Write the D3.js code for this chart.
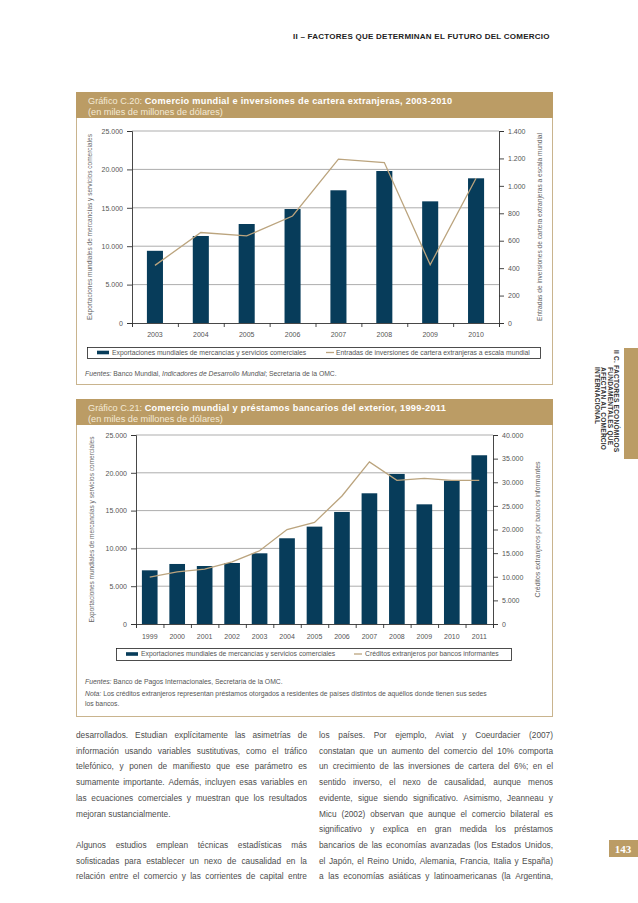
<!DOCTYPE html>
<html>
<head>
<meta charset="utf-8">
<script src="https://cdn.jsdelivr.net/npm/d3@7"></script>
<style>
  body { margin: 0; background: #fff; }
  svg { display: block; font-family: "Liberation Sans", Arial, sans-serif; }
</style>
</head>
<body>
<svg id="page" width="638" height="903"></svg>
<script>
// Gráfico C.20
var years20 = ['2003', '2004', '2005', '2006', '2007', '2008', '2009', '2010'];
var exports20 = [9400, 11330, 12890, 14840, 17280, 19790, 15840, 18840];
var portfolio20 = [420, 660, 635, 780, 1195, 1170, 425, 1055];
var leftTicks20 = [0, 5000, 10000, 15000, 20000, 25000];
var rightTicks20 = [0, 200, 400, 600, 800, 1000, 1200, 1400];

// Gráfico C.21
var years21 = ['1999', '2000', '2001', '2002', '2003', '2004', '2005', '2006', '2007', '2008', '2009', '2010', '2011'];
var exports21 = [7100, 7940, 7670, 8070, 9350, 11340, 12880, 14820, 17290, 19850, 15830, 18960, 22320];
var credits21 = [9900, 11050, 11600, 13150, 15500, 20000, 21500, 27100, 34300, 30400, 30800, 30400, 30400];
var leftTicks21 = [0, 5000, 10000, 15000, 20000, 25000];
var rightTicks21 = [0, 5000, 10000, 15000, 20000, 25000, 30000, 35000, 40000];

var GOLD = '#bb9c65';
var BAR = '#073c5a';
var LINE = '#bba47e';

var es = d3.formatLocale({decimal: ',', thousands: '.', grouping: [3], currency: ['', '']});
var fmt = es.format(',d');

var svg = d3.select('#page');

// page header
svg.append('text').attr('x', 293).attr('y', 38.5)
  .attr('font-size', 8).attr('font-weight', 'bold').attr('letter-spacing', 0.25).attr('fill', '#222')
  .text('II – FACTORES QUE DETERMINAN EL FUTURO DEL COMERCIO');

function drawChart(cfg) {
  var g = svg.append('g');
  // frame + header band
  g.append('rect').attr('x', cfg.box[0] + 0.5).attr('y', cfg.top + 0.5)
    .attr('width', cfg.box[1] - cfg.box[0] - 1).attr('height', cfg.bottom - cfg.top - 1)
    .attr('fill', 'none').attr('stroke', '#c9b48e').attr('stroke-width', 1);
  g.append('rect').attr('x', cfg.box[0]).attr('y', cfg.top)
    .attr('width', cfg.box[1] - cfg.box[0]).attr('height', 26).attr('fill', GOLD);
  var t = g.append('text').attr('x', 88).attr('y', cfg.top + 12).attr('font-size', 9.2);
  t.append('tspan').attr('fill', '#f4ead6').text(cfg.label + ' ');
  t.append('tspan').attr('fill', '#fff').attr('font-weight', 'bold').attr('letter-spacing', 0.3).text(cfg.title);
  g.append('text').attr('x', 88).attr('y', cfg.top + 22.5).attr('font-size', 9.2)
    .attr('fill', '#f4ead6').text('(en miles de millones de dólares)');

  var p = cfg.plot;
  var x = d3.scaleBand().domain(cfg.years).range([p.left, p.right])
    .paddingInner(cfg.pad).paddingOuter(cfg.pad / 2);
  var edge = d3.scaleLinear().domain([0, cfg.years.length]).range([p.left, p.right]);
  var y = d3.scaleLinear().domain([0, 25000]).range([p.bottom, p.top]);
  var y2 = d3.scaleLinear().domain([0, cfg.rightTicks[cfg.rightTicks.length - 1]]).range([p.bottom, p.top]);

  // gridlines
  g.append('g').selectAll('line').data(cfg.leftTicks.slice(1)).enter().append('line')
    .attr('x1', p.left).attr('x2', p.right)
    .attr('y1', function (d) { return y(d); }).attr('y2', function (d) { return y(d); })
    .attr('stroke', '#8a8a8a').attr('stroke-width', 0.7);

  // bars
  g.append('g').selectAll('rect').data(cfg.bars).enter().append('rect')
    .attr('x', function (d, i) { return x(cfg.years[i]); })
    .attr('width', x.bandwidth())
    .attr('y', function (d) { return y(d); })
    .attr('height', function (d) { return p.bottom - y(d); })
    .attr('fill', BAR);

  // line
  var ln = d3.line()
    .x(function (d, i) { return x(cfg.years[i]) + x.bandwidth() / 2; })
    .y(function (d) { return y2(d); });
  g.append('path').datum(cfg.line).attr('d', ln)
    .attr('fill', 'none').attr('stroke', LINE).attr('stroke-width', 1.3);

  // axes
  var left = g.append('g').attr('transform', 'translate(' + p.left + ',0)')
    .call(d3.axisLeft(y).tickValues(cfg.leftTicks).tickSize(5).tickPadding(4).tickFormat(fmt));
  var right = g.append('g').attr('transform', 'translate(' + p.right + ',0)')
    .call(d3.axisRight(y2).tickValues(cfg.rightTicks).tickSize(5).tickPadding(4).tickFormat(fmt));
  var bottom = g.append('g').attr('transform', 'translate(0,' + p.bottom + ')')
    .call(d3.axisBottom(edge).tickValues(d3.range(cfg.years.length + 1)).tickSize(4).tickFormat(''));
  var labels = g.append('g').attr('transform', 'translate(0,' + p.bottom + ')')
    .call(d3.axisBottom(x).tickSize(0).tickPadding(cfg.yearPad));
  labels.select('.domain').remove();
  [left, right, bottom, labels].forEach(function (a) {
    a.attr('font-family', null);
    a.selectAll('.domain').attr('stroke', '#333').attr('stroke-width', 0.9);
    a.selectAll('.tick line').attr('stroke', '#333').attr('stroke-width', 0.9);
    a.selectAll('text').attr('font-size', 7).attr('fill', '#555');
  });

  // axis titles
  g.append('text')
    .attr('transform', 'translate(' + cfg.ltX + ',' + (p.top + p.bottom) / 2 + ') rotate(-90)')
    .attr('text-anchor', 'middle').attr('font-size', 6.3).attr('fill', '#666')
    .attr('textLength', cfg.ltLen).attr('lengthAdjust', 'spacingAndGlyphs')
    .text('Exportaciones mundiales de mercancías y servicios comerciales');
  g.append('text')
    .attr('transform', 'translate(' + cfg.rtX + ',' + (p.top + p.bottom) / 2 + ') rotate(-90)')
    .attr('text-anchor', 'middle').attr('font-size', 6.3).attr('fill', '#666')
    .attr('textLength', cfg.rtLen).attr('lengthAdjust', 'spacingAndGlyphs')
    .text(cfg.rightTitle);

  // legend
  var L = cfg.legend;
  g.append('rect').attr('x', L.x0 + 0.5).attr('y', L.y0 + 0.5)
    .attr('width', L.x1 - L.x0).attr('height', L.y1 - L.y0)
    .attr('fill', 'none').attr('stroke', '#222').attr('stroke-width', 0.8);
  var ly = (L.y0 + L.y1) / 2;
  g.append('rect').attr('x', L.sw1).attr('y', ly - 1.8).attr('width', 12).attr('height', 3.6).attr('fill', BAR);
  g.append('text').attr('x', L.t1).attr('y', ly + 2.3).attr('font-size', 6.8).attr('fill', '#555')
    .text('Exportaciones mundiales de mercancías y servicios comerciales');
  g.append('line').attr('x1', L.sw2).attr('x2', L.sw2 + 8).attr('y1', ly).attr('y2', ly)
    .attr('stroke', LINE).attr('stroke-width', 1.3);
  g.append('text').attr('x', L.t2).attr('y', ly + 2.3).attr('font-size', 6.8).attr('fill', '#555')
    .text(cfg.lineName);

  // sources / notes
  cfg.notes.forEach(function (n) {
    var tx = g.append('text').attr('x', 85).attr('y', n.y).attr('font-size', 6.8).attr('fill', '#555');
    n.parts.forEach(function (pt) {
      tx.append('tspan').attr('font-style', pt[1] ? 'italic' : null).text(pt[0]);
    });
  });
}

drawChart({
  label: 'Gráfico C.20:',
  title: 'Comercio mundial e inversiones de cartera extranjeras, 2003-2010',
  box: [76, 553], top: 92, bottom: 385,
  plot: {left: 132, right: 499, top: 131, bottom: 323},
  years: years20, bars: exports20, line: portfolio20,
  leftTicks: leftTicks20, rightTicks: rightTicks20,
  pad: 0.65, yearPad: 9,
  ltX: 92, ltLen: 186, rtX: 542, rtLen: 188,
  rightTitle: 'Entradas de inversiones de cartera extranjeras a escala mundial',
  lineName: 'Entradas de inversiones de cartera extranjeras a escala mundial',
  legend: {x0: 87, x1: 540, y0: 347, y1: 358, sw1: 97, t1: 112, sw2: 326, t2: 336},
  notes: [
    {y: 375.5, parts: [['Fuentes:', 1], [' Banco Mundial, ', 0], ['Indicadores de Desarrollo Mundial', 1], ['; Secretaría de la OMC.', 0]]}
  ]
});

drawChart({
  label: 'Gráfico C.21:',
  title: 'Comercio mundial y préstamos bancarios del exterior, 1999-2011',
  box: [76, 553], top: 399, bottom: 717,
  plot: {left: 136, right: 493, top: 435, bottom: 624},
  years: years21, bars: exports21, line: credits21,
  leftTicks: leftTicks21, rightTicks: rightTicks21,
  pad: 0.43, yearPad: 10,
  ltX: 94, ltLen: 186, rtX: 540, rtLen: 136,
  rightTitle: 'Créditos extranjeros por bancos informantes',
  lineName: 'Créditos extranjeros por bancos informantes',
  legend: {x0: 116, x1: 511, y0: 648, y1: 660, sw1: 126, t1: 141, sw2: 354, t2: 365},
  notes: [
    {y: 683.5, parts: [['Fuentes:', 1], [' Banco de Pagos Internacionales, Secretaría de la OMC.', 0]]},
    {y: 695.5, parts: [['Nota:', 1], [' Los créditos extranjeros representan préstamos otorgados a residentes de países distintos de aquéllos donde tienen sus sedes', 0]]},
    {y: 705.5, parts: [['los bancos.', 0]]}
  ]
});

// body text, two justified columns
var leftCol = [
  ['desarrollados. Estudian explícitamente las asimetrías de', 1],
  ['información usando variables sustitutivas, como el tráfico', 1],
  ['telefónico, y ponen de manifiesto que ese parámetro es', 1],
  ['sumamente importante. Además, incluyen esas variables en', 1],
  ['las ecuaciones comerciales y muestran que los resultados', 1],
  ['mejoran sustancialmente.', 0],
  ['', 0],
  ['Algunos estudios emplean técnicas estadísticas más', 1],
  ['sofisticadas para establecer un nexo de causalidad en la', 1],
  ['relación entre el comercio y las corrientes de capital entre', 1]
];
var rightCol = [
  ['los países. Por ejemplo, Aviat y Coeurdacier (2007)', 1],
  ['constatan que un aumento del comercio del 10% comporta', 1],
  ['un crecimiento de las inversiones de cartera del 6%; en el', 1],
  ['sentido inverso, el nexo de causalidad, aunque menos', 1],
  ['evidente, sigue siendo significativo. Asimismo, Jeanneau y', 1],
  ['Micu (2002) observan que aunque el comercio bilateral es', 1],
  ['significativo y explica en gran medida los préstamos', 1],
  ['bancarios de las economías avanzadas (los Estados Unidos,', 1],
  ['el Japón, el Reino Unido, Alemania, Francia, Italia y España)', 1],
  ['a las economías asiáticas y latinoamericanas (la Argentina,', 1]
];

function column(lines, x0, width) {
  lines.forEach(function (l, i) {
    if (!l[0]) return;
    var words = l[0].split(' ');
    var tx = svg.append('text').attr('y', 738 + i * 15.7).attr('font-size', 8.3).attr('fill', '#4d4d4d');
    var spans = words.map(function (w) { return tx.append('tspan').text(w); });
    var widths = spans.map(function (s) { return s.node().getComputedTextLength(); });
    var sum = d3.sum(widths);
    var gap = l[1] && words.length > 1 ? (width - sum) / (words.length - 1) : 2.3;
    var cx = x0;
    spans.forEach(function (s, k) { s.attr('x', cx); cx += widths[k] + gap; });
  });
}
column(leftCol, 76, 231);
column(rightCol, 319, 234);

// side tab
svg.append('rect').attr('x', 624).attr('y', 348).attr('width', 14).attr('height', 111).attr('fill', GOLD);
var side = ['II C. FACTORES ECONÓMICOS', 'FUNDAMENTALES QUE', 'AFECTAN AL COMERCIO', 'INTERNACIONAL'];
side.forEach(function (s, i) {
  svg.append('text')
    .attr('transform', 'translate(' + (614 - i * 6.3) + ',' + (i === 0 ? 350 : 367) + ') rotate(90)')
    .attr('font-size', 6.6).attr('font-weight', 'bold').attr('letter-spacing', 0.2).attr('fill', '#333')
    .text(s);
});

// page number
svg.append('rect').attr('x', 609).attr('y', 840).attr('width', 29).attr('height', 17).attr('fill', GOLD);
svg.append('text').attr('x', 623).attr('y', 852.5).attr('text-anchor', 'middle')
  .attr('font-family', '"Liberation Serif", serif').attr('font-weight', 'bold')
  .attr('font-size', 11).attr('fill', '#fff').text('143');
</script>
</body>
</html>
